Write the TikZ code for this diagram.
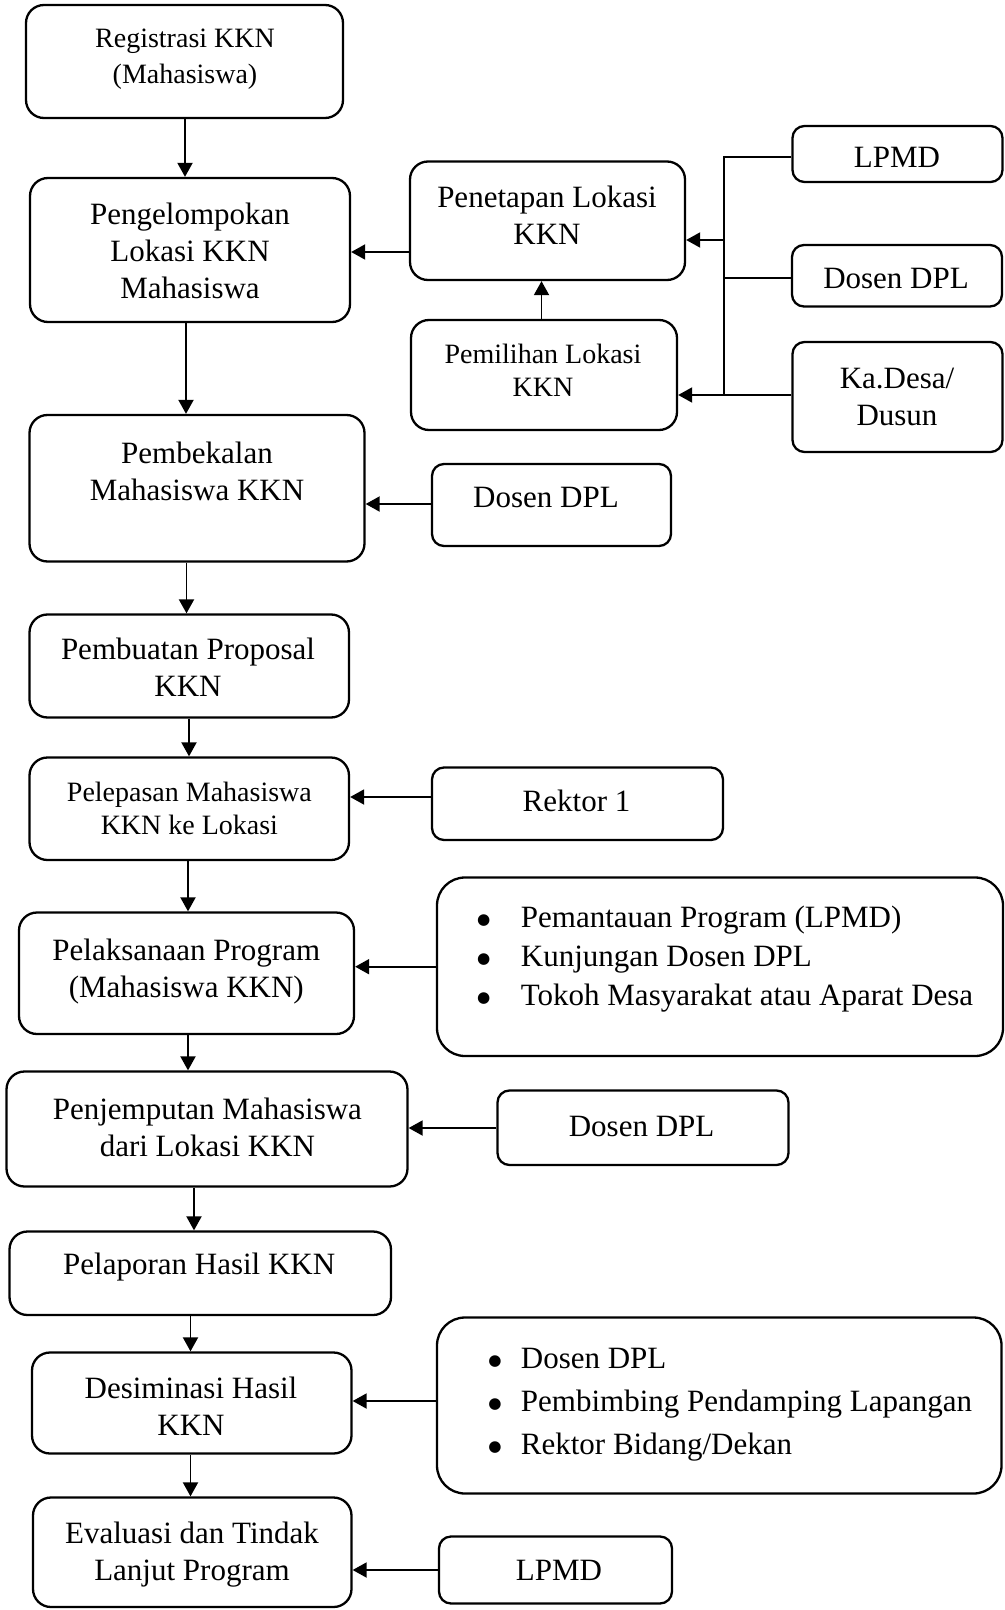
\documentclass[tikz,border=0pt]{standalone}
\usepackage{fontspec}
\setmainfont{Liberation Serif}
\newfontfamily\dejavu{DejaVu Sans}
\usetikzlibrary{arrows.meta}
\newcommand\fbig{\fontsize{15.5pt}{18.5pt}\selectfont}
\newcommand\fsml{\fontsize{14pt}{16.5pt}\selectfont}
\newcommand\blt[1]{\makebox[#1][l]{\hspace{0.6pt}\raisebox{1.6pt}{\dejavu\fontsize{7.6pt}{7.6pt}\selectfont ●}}}
\tikzset{
  box/.style={draw, line width=1.15pt, rounded corners=9pt, inner sep=0pt},
  sbox/.style={box, rounded corners=6pt},
  bbox/.style={box, rounded corners=14pt},
  lbl/.style={font=\fbig, align=center, inner sep=0pt},
  slbl/.style={lbl, font=\fsml},
  ln/.style={line width=0.95pt},
  arr/.style={line width=0.95pt, -{Triangle[length=7pt,width=7.5pt]}}
}
\begin{document}
\begin{tikzpicture}[x=0.5pt, y=-0.5pt]
\useasboundingbox (0,0) rectangle (1005,1610);
\fill[white] (0,0) rectangle (1005,1610);

% ---- boxes ----
\node[box, minimum width=158.5pt, minimum height=56.5pt] (reg) at (184.5,61.5) {};
\node[box, minimum width=160pt, minimum height=72pt] (grp) at (190,250) {};
\node[box, minimum width=137.5pt, minimum height=59.25pt] (pen) at (547.5,220.75) {};
\node[box, minimum width=133pt, minimum height=55pt] (pil) at (544,375) {};
\node[sbox, minimum width=105pt, minimum height=28pt] (lpmdA) at (897.5,154) {};
\node[sbox, minimum width=105pt, minimum height=30.75pt] (dplA) at (897,275.75) {};
\node[sbox, minimum width=105pt, minimum height=55pt] (kad) at (897.5,397) {};
\node[box, minimum width=167.5pt, minimum height=73.25pt] (bek) at (197,488.25) {};
\node[sbox, minimum width=119.5pt, minimum height=41pt] (dplB) at (551.5,505) {};
\node[box, minimum width=159.75pt, minimum height=51.5pt] (pro) at (189.25,666) {};
\node[box, minimum width=159.75pt, minimum height=51.25pt] (lep) at (189.25,808.75) {};
\node[sbox, minimum width=145.5pt, minimum height=36.25pt] (rek) at (577.5,803.75) {};
\node[box, minimum width=167.5pt, minimum height=60.75pt] (lak) at (186.5,973.25) {};
\node[bbox, minimum width=283pt, minimum height=89.25pt] (bulA) at (720,966.75) {};
\node[box, minimum width=200.5pt, minimum height=57.5pt] (jem) at (207,1129) {};
\node[sbox, minimum width=145.5pt, minimum height=37.25pt] (dplC) at (643,1127.75) {};
\node[box, minimum width=190.75pt, minimum height=41.75pt] (lap) at (200.25,1273.25) {};
\node[box, minimum width=159.75pt, minimum height=50.5pt] (des) at (191.75,1403) {};
\node[bbox, minimum width=282.25pt, minimum height=88pt] (bulB) at (719.25,1405.5) {};
\node[box, minimum width=159.25pt, minimum height=54.75pt] (eva) at (192.25,1552.25) {};
\node[sbox, minimum width=116.5pt, minimum height=33.5pt] (lpmdB) at (555.5,1570) {};

% ---- texts ----
\node[slbl, font=\fontsize{14pt}{18pt}\selectfont] (regT) at (185,59.5) {Registrasi KKN\\(Mahasiswa)};
\node[lbl] (grpT) at (190,251) {Pengelompokan\\Lokasi KKN\\Mahasiswa};
\node[lbl] (penT) at (547,215) {Penetapan Lokasi\\KKN};
\node[slbl] (pilT) at (543,370) {Pemilihan Lokasi\\KKN};
\node[lbl] (lpmdAT) at (897,157) {LPMD};
\node[lbl] (dplAT) at (896,279) {Dosen DPL};
\node[lbl] (kadT) at (897,396.5) {Ka.Desa/\\Dusun};
\node[lbl] (bekT) at (197,471) {Pembekalan\\Mahasiswa KKN};
\node[lbl] (dplBT) at (546,498) {Dosen DPL};
\node[lbl] (proT) at (188,667.5) {Pembuatan Proposal\\KKN};
\node[slbl] (lepT) at (189.4,808.5) {Pelepasan Mahasiswa\\KKN ke Lokasi};
\node[lbl] (rekT) at (576.5,801) {Rektor 1};
\node[lbl] (lakT) at (186.3,971.5) {Pelaksanaan Program\\(Mahasiswa KKN)};
\node[lbl, align=left, anchor=west, font=\fontsize{15.5pt}{19.5pt}\selectfont] (bulAT) at (475.5,959.5)
  {\blt{22.5pt}Pemantauan Program (LPMD)\\ \blt{22.5pt}Kunjungan Dosen DPL\\ \blt{22.5pt}Tokoh Masyarakat atau Aparat Desa};
\node[lbl] (jemT) at (207.4,1127) {Penjemputan Mahasiswa\\dari Lokasi KKN};
\node[lbl] (dplCT) at (641.6,1126) {Dosen DPL};
\node[lbl] (lapT) at (199.2,1267.5) {Pelaporan Hasil KKN};
\node[lbl] (desT) at (191,1406.7) {Desiminasi Hasil\\KKN};
\node[lbl, align=left, anchor=west, font=\fontsize{15.5pt}{21.5pt}\selectfont] (bulBT) at (486.8,1405)
  {\blt{16.85pt}Dosen DPL\\ \blt{16.85pt}Pembimbing Pendamping Lapangan\\ \blt{16.85pt}Rektor Bidang/Dekan};
\node[lbl] (evaT) at (192,1554.5) {Evaluasi dan Tindak\\Lanjut Program};
\node[lbl] (lpmdBT) at (559,1570) {LPMD};

% ---- bus on the right ----
\coordinate (bt) at (724,157);
\coordinate (bd) at (724,278);
\coordinate (bm) at (724,240);
\coordinate (bb) at (724,395);
\draw[ln] (lpmdA.west |- bt) -- (bt) -- (bb);
\draw[ln] (dplA.west |- bd) -- (bd);
\draw[arr] (kad.west |- bb) -- (pil.east |- bb);
\draw[arr] (bm) -- (pen.east |- bm);
\draw[arr] (pil.north -| 541.5,0) -- (pen.south -| 541.5,0);

% ---- main flow ----
\draw[arr] (reg.south -| 185,0) -- (grp.north -| 185,0);
\draw[arr] (grp.south -| 186,0) -- (bek.north -| 186,0);
\draw[arr] (bek.south -| 186.5,0) -- (pro.north -| 186.5,0);
\draw[arr] (pro.south -| 189,0) -- (lep.north -| 189,0);
\draw[arr] (lep.south -| 188,0) -- (lak.north -| 188,0);
\draw[arr] (lak.south -| 188,0) -- (jem.north -| 188,0);
\draw[arr] (jem.south -| 194,0) -- (lap.north -| 194,0);
\draw[arr] (lap.south -| 190.5,0) -- (des.north -| 190.5,0);
\draw[arr] (des.south -| 190.5,0) -- (eva.north -| 190.5,0);

% ---- side inputs ----
\draw[arr] (pen.west |- 0,252) -- (grp.east |- 0,252);
\draw[arr] (dplB.west |- 0,504) -- (bek.east |- 0,504);
\draw[arr] (rek.west |- 0,797) -- (lep.east |- 0,797);
\draw[arr] (bulA.west |- 0,966.7) -- (lak.east |- 0,966.7);
\draw[arr] (dplC.west |- 0,1128) -- (jem.east |- 0,1128);
\draw[arr] (bulB.west |- 0,1401) -- (des.east |- 0,1401);
\draw[arr] (lpmdB.west |- 0,1570) -- (eva.east |- 0,1570);
\end{tikzpicture}
\end{document}
